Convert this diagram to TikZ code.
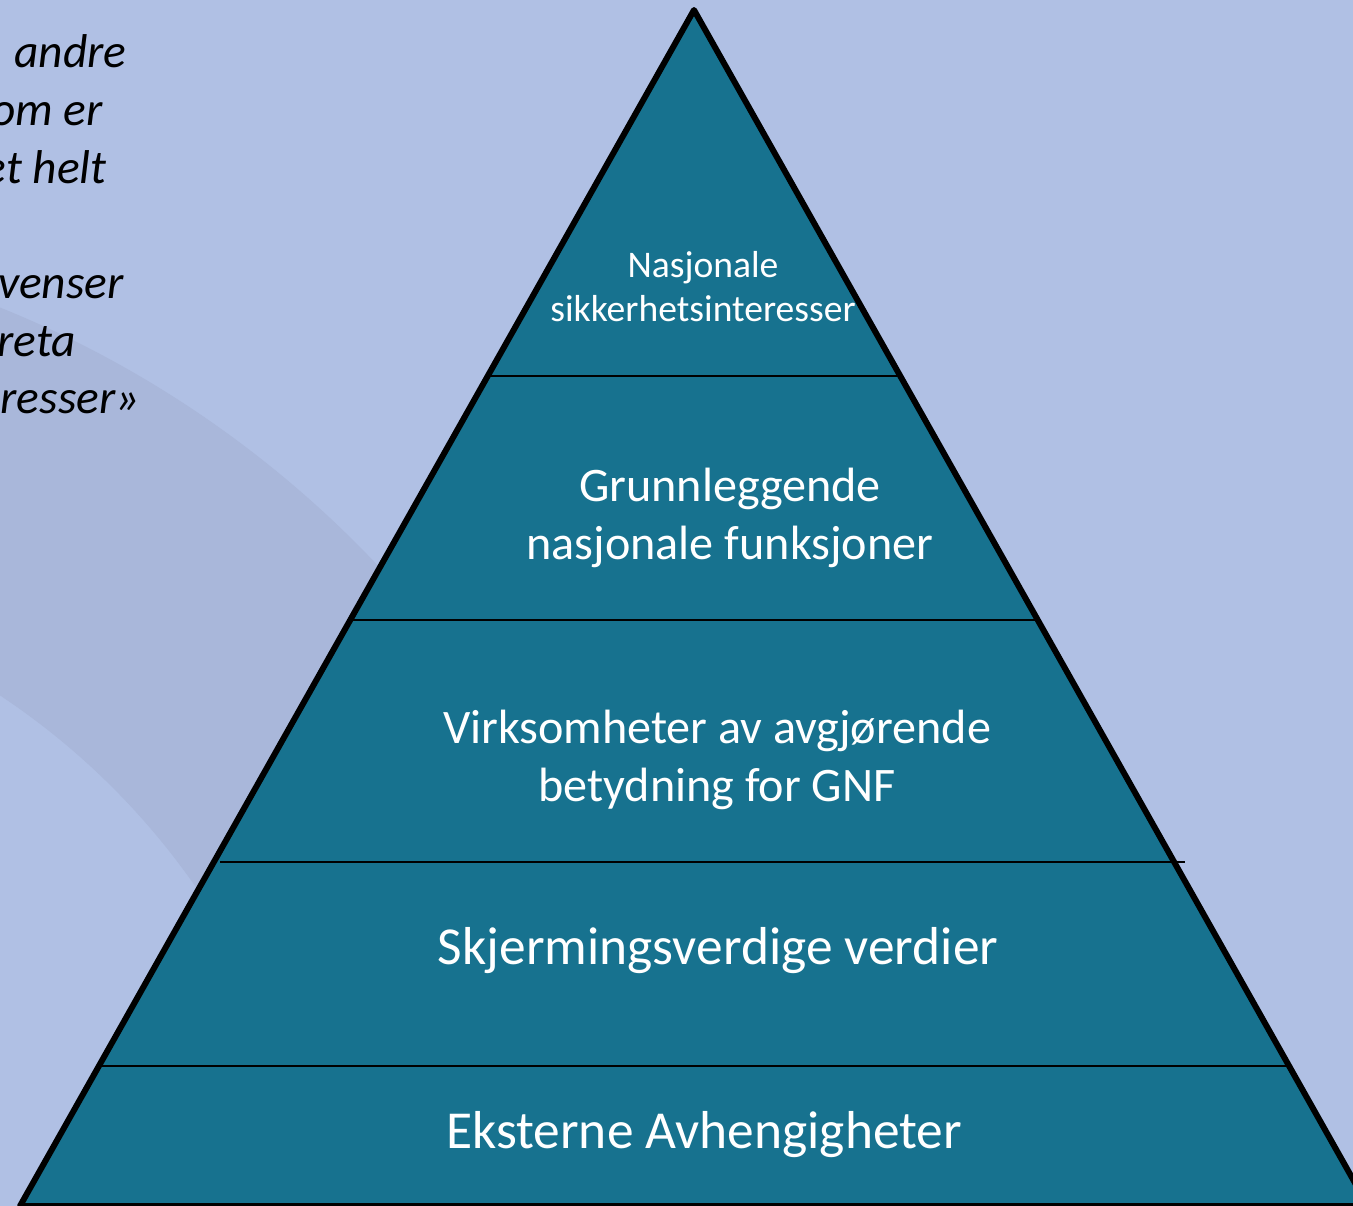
\documentclass[tikz,border=0pt]{standalone}
\usepackage{fontspec}
\setmainfont{Carlito}
\usetikzlibrary{calc}
\definecolor{bakgrunn}{HTML}{B0C0E4}
\definecolor{bue}{HTML}{A9B7DA}
\definecolor{pyramide}{HTML}{17728F}
\tikzset{
  nivaa/.style={text=white, align=center, inner sep=0pt, font=\fontsize{30.4}{33}\selectfont},
  tolinjer/.style={nivaa, font=\fontsize{27.4}{33}\selectfont},
  skille/.style={line width=1.2pt},
  sitat/.style={anchor=base east, inner sep=0pt, font=\fontsize{27}{32}\selectfont\itshape},
}
\begin{document}
\begin{tikzpicture}[x=0.02cm,y=-0.02cm]
  % Bakgrunn
  \useasboundingbox (0,0) rectangle (1353,1206);
  \clip (0,0) rectangle (1353,1206);
  \fill[bakgrunn] (0,0) rectangle (1353,1206);
  \fill[bue,even odd rule] (-400,1300) circle (21.4cm) (-400,1300) circle (14.5cm);

  % Sitat, avkuttet i venstre kant
  \node[sitat] (linje1) at (127,68) {andre};
  \node[sitat] (linje2) at (103,126) {om er};
  \node[sitat] (linje3) at (107,184) {et helt};
  \node[sitat] (linje4) at (124,299) {venser};
  \node[sitat] (linje5) at (76,357) {reta};
  \node[sitat] (linje6) at (140,414) {resser»};

  % Pyramiden
  \coordinate (topp) at (694,10);
  \coordinate (vb) at (20,1206);
  \coordinate (hb) at (1368,1206);
  \fill[pyramide] (topp) -- (vb) -- (hb) -- cycle;

  % Skillelinjer
  \draw[skille] ($(topp)!0.306!(vb)$) -- ($(topp)!0.306!(hb)$);
  \draw[skille] ($(topp)!0.510!(vb)$) -- ($(topp)!0.510!(hb)$);
  \draw[skille] ($(topp)!0.712!(vb)+(6,0)$) -- ($(topp)!0.712!(hb)+(11,0)$);
  \draw[skille] ($(topp)!0.883!(vb)$) -- ($(topp)!0.883!(hb)$);
  \draw[line width=3.4pt, line join=round] (topp) -- (vb) -- (hb) -- cycle;

  % Nivaaene
  \node[nivaa, font=\fontsize{21.4}{25}\selectfont] (sikkerhet) at (703,287) {Nasjonale\\sikkerhetsinteresser};
  \node[tolinjer] (gnf) at (730,518) {Grunnleggende\\nasjonale funksjoner};
  \node[tolinjer] (virksomheter) at (717,760) {Virksomheter av avgjørende\\betydning for GNF};
  \node[nivaa] (skjerming) at (718,951) {Skjermingsverdige verdier};
  \node[nivaa] (eksterne) at (704,1135) {Eksterne Avhengigheter};
\end{tikzpicture}
\end{document}
